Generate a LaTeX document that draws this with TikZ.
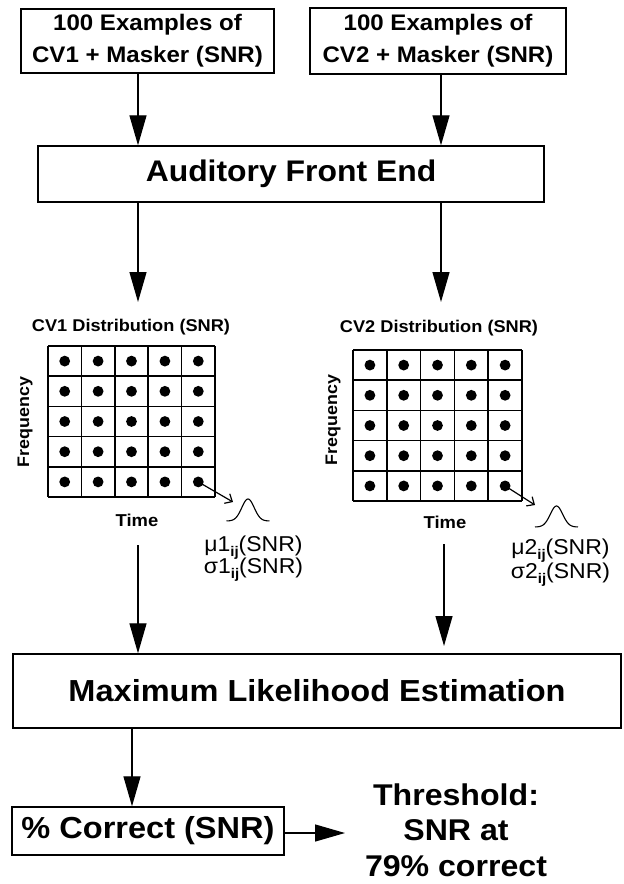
\documentclass[tikz,border=0pt]{standalone}
\usepackage{fontspec}
\setmainfont{Liberation Sans}
\usetikzlibrary{arrows.meta}
\newcommand\hs[1]{\scalebox{1.07}[1]{#1}}
\newcommand\fs[1]{\fontsize{#1}{#1}\selectfont}
\begin{document}
\begin{tikzpicture}[x=1pt,y=-1pt,
  box/.style={draw,line width=1.4pt,inner sep=0pt},
  conn/.style={line width=1.3pt,-{Triangle[length=30pt,width=17pt]}},
  smallarr/.style={line width=1.2pt,-{Straight Barb[length=6pt,width=11pt]}},
  gridline/.style={line width=1.5pt},
  bump/.style={line width=1.1pt},
  ]
\useasboundingbox[fill=white] (0,0) rectangle (624,884);

% input boxes
\node[box,minimum width=253pt,minimum height=64pt,align=center,font=\bfseries\fontsize{22.5}{32}\selectfont] (in1) at (147.5,41) {\hs{100 Examples of}\\\hs{CV1 + Masker (SNR)}};
\node[box,minimum width=256pt,minimum height=66pt,align=center,font=\bfseries\fontsize{22.5}{32}\selectfont] (in2) at (438,41) {\hs{100 Examples of}\\\hs{CV2 + Masker (SNR)}};

% auditory front end
\node[box,minimum width=506pt,minimum height=56pt,font=\bfseries\fs{29.8}] (afe) at (291,174) {\hs{Auditory Front End}};

% distribution titles
\node[font=\bfseries\fs{17}] (d1t) at (131,327) {\hs{CV1 Distribution (SNR)}};
\node[font=\bfseries\fs{17}] (d2t) at (439,328.5) {\hs{CV2 Distribution (SNR)}};

% grid 1
\foreach \i in {0,...,5} {
  \draw[gridline] ({48+\i*167/5},346) -- ({48+\i*167/5},497);
  \draw[gridline] (48,{346+\i*151/5}) -- (215,{346+\i*151/5});
}
\foreach \i in {0,...,4} \foreach \j in {0,...,4}
  \fill ({48+(\i+0.5)*33.4},{346+(\j+0.5)*30.2}) circle[radius=5.4pt];
% grid 2
\foreach \i in {0,...,5} {
  \draw[gridline] ({353+\i*169/5},350) -- ({353+\i*169/5},501);
  \draw[gridline] (353,{350+\i*151/5}) -- (522,{350+\i*151/5});
}
\foreach \i in {0,...,4} \foreach \j in {0,...,4}
  \fill ({353+(\i+0.5)*33.8},{350+(\j+0.5)*30.2}) circle[radius=5.4pt];

% axis labels
\node[rotate=90,font=\bfseries\fs{16.7}] (f1) at (25,422) {\hs{Frequency}};
\node[rotate=90,font=\bfseries\fs{16.7}] (f2) at (333,420) {\hs{Frequency}};
\node[font=\bfseries\fs{17.2}] (tm1) at (137,520) {\hs{Time}};
\node[font=\bfseries\fs{17.2}] (tm2) at (445,522) {\hs{Time}};

% small arrows and bumps
\coordinate (ld1) at (198.3,481.9);
\coordinate (ah1) at (233,502);
\draw[smallarr] (ld1) -- (ah1);
\draw[bump] plot[domain=-1:1,samples=60,smooth] ({248+21.5*\x},{521-22*exp(-6*\x*\x)});
\coordinate (ld2) at (505.1,485.9);
\coordinate (ah2) at (535,505);
\draw[smallarr] (ld2) -- (ah2);
\draw[bump] plot[domain=-1:1,samples=60,smooth] ({556.5+21.5*\x},{527-21*exp(-6*\x*\x)});

% parameter labels
\node[anchor=base,font=\fs{21.5}] (mu1) at (253.5,551) {\hs{μ1\raisebox{-0.25em}{\fs{14}\bfseries ij}(SNR)}};
\node[anchor=base,font=\fs{21.5}] (sg1) at (253.5,573) {\hs{σ1\raisebox{-0.25em}{\fs{14}\bfseries ij}(SNR)}};
\node[anchor=base,font=\fs{21.5}] (mu2) at (560.5,554) {\hs{μ2\raisebox{-0.25em}{\fs{14}\bfseries ij}(SNR)}};
\node[anchor=base,font=\fs{21.5}] (sg2) at (560.5,578) {\hs{σ2\raisebox{-0.25em}{\fs{14}\bfseries ij}(SNR)}};

% MLE
\node[box,minimum width=608pt,minimum height=74pt,font=\bfseries\fs{30.4}] (mle) at (317,691) {\hs{Maximum Likelihood Estimation}};
% percent correct
\node[box,minimum width=272pt,minimum height=48pt,font=\bfseries\fs{30.4}] (pc) at (148,831) {\hs{\% Correct (SNR)}};
% threshold
\node[align=center,font=\bfseries\fontsize{30}{35.5}\selectfont] (thr) at (456,830) {\hs{Threshold:}\\\hs{SNR at}\\\hs{79\% correct}};

% connectors
\coordinate (c1) at (138,0);
\coordinate (c2) at (441,0);
\draw[conn] (in1.south -| c1) -- (afe.north -| c1);
\draw[conn] (in2.south -| c2) -- (afe.north -| c2);
\coordinate (t1) at (138,302);
\coordinate (t2) at (441,302);
\draw[conn] (afe.south -| t1) -- (t1);
\draw[conn] (afe.south -| t2) -- (t2);
\coordinate (s1) at (138,545);
\draw[conn] (s1) -- (mle.north -| s1);
\coordinate (s2) at (444,544);
\coordinate (e2) at (444,646);
\draw[conn] (s2) -- (e2);
\coordinate (c3) at (132,0);
\draw[conn] (mle.south -| c3) -- (pc.north -| c3);
\coordinate (ta) at (345,833);
\draw[conn] (pc.east |- ta) -- (ta);
\end{tikzpicture}
\end{document}
